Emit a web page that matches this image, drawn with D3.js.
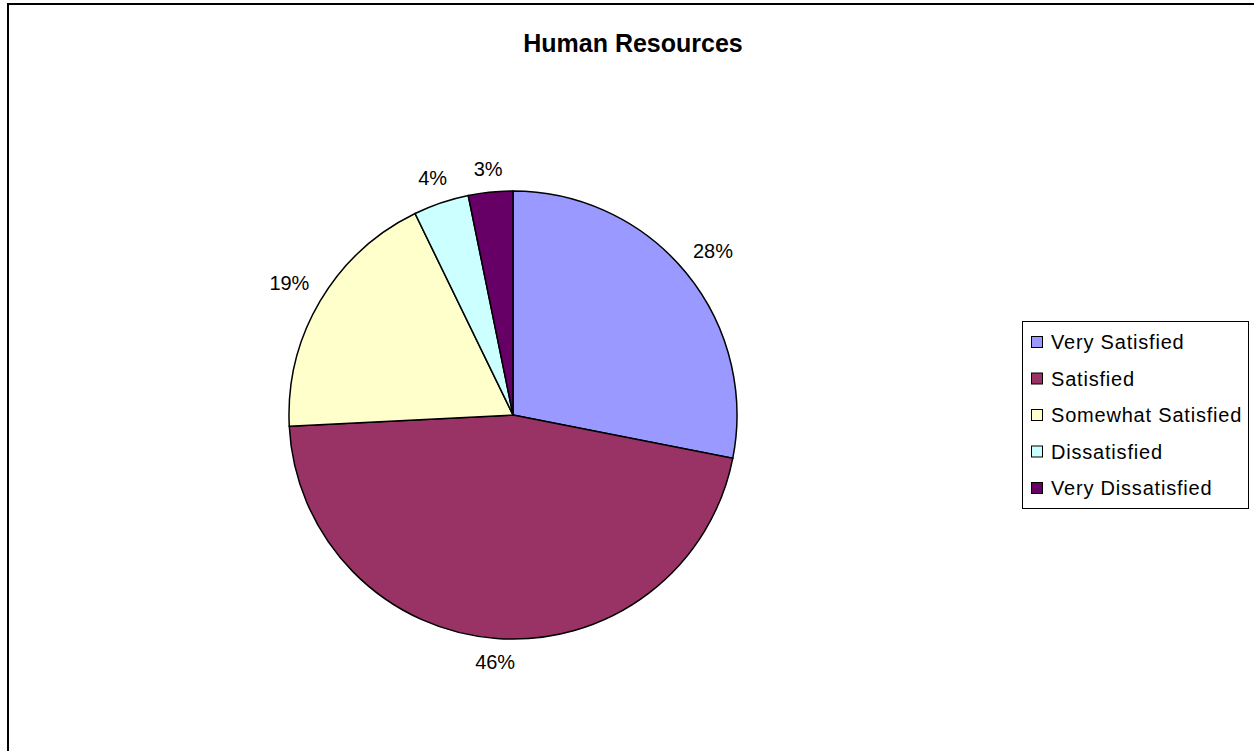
<!DOCTYPE html>
<html>
  <head>
    <title>Human Resources</title>
    <script src="https://d3js.org/d3.v7.min.js"></script>
    <style>
      body { margin: 0; background: #fff; }
      text { font-family: "Liberation Sans", Arial, sans-serif; fill: #000; }
    </style>
  </head>
  <body>
    <script>
      var width = 1254;
      var height = 751;

      // data
      var categories = ["Very Satisfied", "Satisfied", "Somewhat Satisfied", "Dissatisfied", "Very Dissatisfied"];
      var values = [28.1, 46.1, 18.6, 4.0, 3.2];
      var palette = ["#9999ff", "#993366", "#ffffcc", "#ccffff", "#660066"];

      var cx = 513, cy = 415, radius = 224;

      var svg = d3.select("body")
        .append("svg")
        .attr("width", width)
        .attr("height", height);

      // chart frame (runs off the right and bottom edge)
      svg.append("rect")
        .attr("x", 8)
        .attr("y", 4)
        .attr("width", width + 10)
        .attr("height", height + 10)
        .attr("fill", "#fff")
        .attr("stroke", "#000")
        .attr("stroke-width", 2);

      svg.append("text")
        .attr("x", 633)
        .attr("y", 52)
        .attr("text-anchor", "middle")
        .style("font-size", "25px")
        .style("font-weight", "bold")
        .text("Human Resources");

      var color = d3.scaleOrdinal()
        .domain(categories)
        .range(palette);

      var pie = d3.pie()
        .sort(null)
        .value(function(d) { return d.value; });

      var arc = d3.arc()
        .innerRadius(0)
        .outerRadius(radius);

      var data = categories.map(function(c, i) { return {name: c, value: values[i]}; });
      var arcs = pie(data);

      var g = svg.append("g")
        .attr("transform", `translate(${cx},${cy})`);

      g.selectAll("path")
        .data(arcs)
        .enter()
        .append("path")
          .attr("d", arc)
          .attr("fill", function(d) { return color(d.data.name); })
          .attr("stroke", "#000")
          .attr("stroke-width", 1.5);

      var total = d3.sum(values);
      var labels = g.selectAll("text.pct")
        .data(arcs)
        .enter()
        .append("text")
          .attr("class", "pct")
          .attr("text-anchor", "middle")
          .style("font-size", "20px")
          .text(function(d) { return Math.round(d.data.value / total * 100) + "%"; });

      // push each label out so its box sits just clear of the rim
      labels.each(function(d) {
        var t = d3.select(this);
        var w = this.getComputedTextLength();
        var h = 14;
        var a = (d.startAngle + d.endAngle) / 2;
        var s = Math.sin(a), c = Math.cos(a);
        var r = radius + 15 + (w / 2) * Math.abs(s) + (h / 2) * Math.abs(c);
        t.attr("x", r * s)
         .attr("y", -r * c + h / 2);
      });

      // legend
      var legend = svg.append("g");

      legend.append("rect")
        .attr("x", 1022.5)
        .attr("y", 321.5)
        .attr("width", 226)
        .attr("height", 187)
        .attr("fill", "#fff")
        .attr("stroke", "#000")
        .attr("stroke-width", 1);

      var rowY = d3.scalePoint()
        .domain(categories)
        .range([342, 488]);

      var item = legend.selectAll("g.item")
        .data(categories)
        .enter()
        .append("g")
          .attr("class", "item")
          .attr("transform", function(d) { return `translate(0,${rowY(d)})`; });

      item.append("rect")
        .attr("x", 1031.5)
        .attr("y", -5.5)
        .attr("width", 11)
        .attr("height", 11)
        .attr("fill", function(d) { return color(d); })
        .attr("stroke", "#000")
        .attr("stroke-width", 1);

      item.append("text")
        .attr("x", 1051)
        .attr("y", 7)
        .style("font-size", "20px")
        .style("letter-spacing", "0.8px")
        .text(function(d) { return d; });
    </script>
  </body>
</html>
